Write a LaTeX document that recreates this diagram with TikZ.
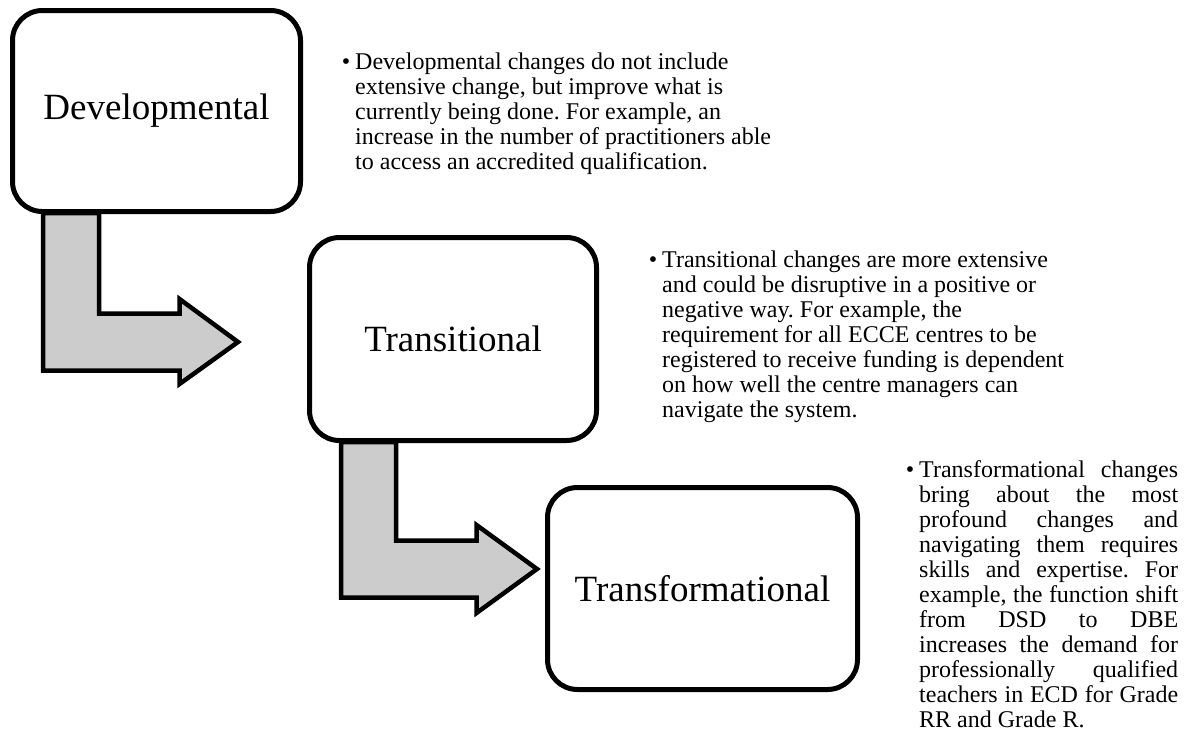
\documentclass[tikz,border=0pt]{standalone}
\usepackage{fontspec}
\setmainfont{Liberation Serif}
\frenchspacing
\usetikzlibrary{backgrounds,calc}
\begin{document}
\begin{tikzpicture}[x=1pt,y=-1pt,
  stage/.style={draw=black, line width=5pt, fill=white, rounded corners=30pt,
    font=\fontsize{37}{40}\selectfont, inner sep=0pt},
  blockarrow/.style={draw=black, line width=4.5pt, fill=black!20, line join=miter},
  desc/.style={anchor=base west, inner sep=0pt}]
\useasboundingbox (0,0) rectangle (1194,731);
% stage boxes
\node[stage, minimum width=288pt, minimum height=201pt] (dev) at (156.5,111) {Developmental};
\node[stage, minimum width=287pt, minimum height=203pt] (tra) at (453,339) {Transitional};
\node[stage, minimum width=310pt, minimum height=202pt] (trf) at (702.5,588.5) {Transformational};
% bent block arrows behind the boxes
\begin{scope}[on background layer]
\draw[blockarrow] ($(dev.south west)+(33,-1)$) |- (179.5,370.5) -- (179.5,384) -- (238,342)
   -- (179.5,299) -- (179.5,313.5) -| ($(dev.south west)+(89,-1)$) -- cycle;
\draw[blockarrow] ($(tra.south west)+(34,-1)$) |- (476.5,597.5) -- (476.5,613) -- (537,569)
   -- (476.5,525) -- (476.5,540.5) -| ($(tra.south west)+(89,-1)$) -- cycle;
\end{scope}
% descriptions
\node[desc] (devtxt) at (355,69) {\parbox[t]{480pt}{\fontsize{24}{25}\selectfont\leavevmode
\llap{\textbullet\hspace{5pt}}Developmental changes do not include\\
extensive change, but improve what is\\
currently being done. For example, an\\
increase in the number of practitioners able\\
to access an accredited qualification.}};
\node[desc] (tratxt) at (662,267) {\parbox[t]{480pt}{\fontsize{24}{25}\selectfont\leavevmode
\llap{\textbullet\hspace{5pt}}Transitional changes are more extensive\\
and could be disruptive in a positive or\\
negative way. For example, the\\
requirement for all ECCE centres to be\\
registered to receive funding is dependent\\
on how well the centre managers can\\
navigate the system.}};
\node[desc] (trftxt) at (919,477) {\parbox[t]{259pt}{\fontsize{24}{25}\selectfont\leavevmode
\llap{\textbullet\hspace{5pt}}\makebox[259pt][s]{Transformational changes}\\
\makebox[259pt][s]{bring about the most}\\
\makebox[259pt][s]{profound changes and}\\
\makebox[259pt][s]{navigating them requires}\\
\makebox[259pt][s]{skills and expertise. For}\\
\makebox[259pt][s]{example, the function shift}\\
\makebox[259pt][s]{from DSD to DBE}\\
\makebox[259pt][s]{increases the demand for}\\
\makebox[259pt][s]{professionally qualified}\\
\makebox[259pt][s]{teachers in ECD for Grade}\\
RR and Grade R.}};
\end{tikzpicture}
\end{document}
